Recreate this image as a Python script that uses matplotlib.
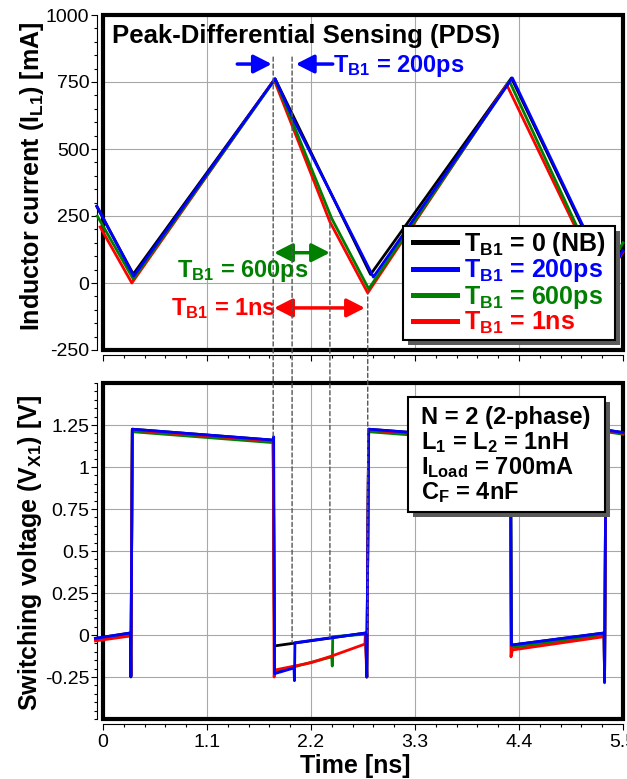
import matplotlib
matplotlib.use("Agg")
import matplotlib.pyplot as plt
from matplotlib.patches import Rectangle, ConnectionPatch
from matplotlib.lines import Line2D
from matplotlib.ticker import FixedLocator, MultipleLocator

plt.rcParams['font.family'] = ['Liberation Sans', 'DejaVu Sans']
plt.rcParams['mathtext.fontset'] = 'custom'
plt.rcParams['mathtext.rm'] = 'Liberation Sans'
plt.rcParams['mathtext.bf'] = 'Liberation Sans:bold'
plt.rcParams['mathtext.it'] = 'Liberation Sans:italic'

# ---- series ----
series_labels = [r'$\mathbf{T_{B1}}$ = 0 (NB)', r'$\mathbf{T_{B1}}$ = 200ps',
                 r'$\mathbf{T_{B1}}$ = 600ps', r'$\mathbf{T_{B1}}$ = 1ns']
series_colors = ['#000000', '#0000ff', '#008000', '#ff0000']

# inductor current I_L1 [mA] vs time [ns]
t_il_nb = [-0.065, 0.32, 1.82, 2.83, 4.32, 5.31, 5.5]
il_nb = [285, 33, 762, 32, 765, 33, 130]
t_il_200 = [-0.065, 0.325, 1.82, 2.02, 2.86, 4.33, 5.33, 5.5]
il_200 = [287, 26, 762, 607, 22, 765, 26, 120]
t_il_600 = [-0.06, 0.32, 1.82, 2.42, 2.81, 4.30, 5.27, 5.5]
il_600 = [250, 15, 760, 240, -22, 752, 15, 150]
t_il_1n = [-0.03, 0.305, 1.81, 2.40, 2.80, 4.27, 5.28, 5.5]
il_1n = [209, 0, 758, 228, -37, 740, 0, 115]

# switching node voltage V_X1 [V] vs time [ns]
t_vx_nb = [-0.08, 0.29, 0.295, 0.31, 1.80, 1.815, 2.78, 2.79, 2.81, 4.31, 4.32, 5.30, 5.305, 5.32, 5.5]
vx_nb = [-0.02, 0.012, -0.25, 1.225, 1.16, -0.065, 0.012, -0.25, 1.225, 1.16, -0.06, 0.012, -0.27, 1.22, 1.205]
t_vx_200 = [-0.08, 0.29, 0.295, 0.31, 1.80, 1.805, 1.815, 2.02, 2.025, 2.03, 2.78, 2.79, 2.81,
            4.31, 4.32, 5.30, 5.305, 5.32, 5.5]
vx_200 = [-0.02, 0.012, -0.245, 1.225, 1.16, 1.18, -0.23, -0.196, -0.272, -0.046, 0.012, -0.25, 1.225,
          1.16, -0.06, 0.012, -0.28, 1.22, 1.205]
t_vx_600 = [-0.08, 0.29, 0.295, 0.31, 1.80, 1.815, 2.42, 2.425, 2.43, 2.78, 2.79, 2.81,
            4.31, 4.32, 4.322, 5.30, 5.305, 5.32, 5.5]
vx_600 = [-0.025, 0.005, -0.24, 1.21, 1.145, -0.22, -0.13, -0.185, -0.01, 0.005, -0.25, 1.21,
          1.145, -0.11, -0.075, 0.0, -0.285, 1.21, 1.195]
t_vx_1n = [-0.08, 0.29, 0.295, 0.31, 1.80, 1.81, 1.82, 2.20, 2.42, 2.77, 2.775, 2.79, 2.81,
           4.31, 4.315, 4.33, 5.30, 5.305, 5.32, 5.5]
vx_1n = [-0.035, -0.006, -0.24, 1.22, 1.155, -0.25, -0.208, -0.165, -0.125, -0.054, 0.0, -0.25, 1.22,
         1.155, -0.13, -0.089, -0.01, -0.27, 1.22, 1.2]

# blanking window markers
blank_start = 1.80
blank_widths = [0.2, 0.6, 1.0]
marker_top_il = [843, 843, 246, -26]
marker_bottom_vx = [1.17, -0.046, -0.015, 0.012]

# axes ticks
x_ticks = [0, 1.1, 2.2, 3.3, 4.4, 5.5]
x_tick_labels = ['0', '1.1', '2.2', '3.3', '4.4', '5.5']
il_ticks = [-250, 0, 250, 500, 750, 1000]
il_tick_labels = ['-250', '0', '250', '500', '750', '1000']
vx_ticks = [-0.25, 0, 0.25, 0.5, 0.75, 1, 1.25]
vx_tick_labels = ['-0.25', '0', '0.25', '0.5', '0.75', '1', '1.25']

info_lines = ['N = 2 (2-phase)', r'$\mathbf{L_1}$ = $\mathbf{L_2}$ = 1nH',
              r'$\mathbf{I_{Load}}$ = 700mA', r'$\mathbf{C_F}$ = 4nF']

W, H = 627, 779
fig = plt.figure(figsize=(W / 100, H / 100), dpi=100)
ax1 = fig.add_axes([103 / W, 1 - 350 / H, 520 / W, 335 / H])
ax2 = fig.add_axes([103 / W, 1 - 719 / H, 520 / W, 336 / H])


def style_axes(ax):
    for s in ['top', 'right']:
        ax.spines[s].set_visible(False)
    ax.spines['left'].set_position(('outward', 4.3))
    ax.spines['bottom'].set_position(('outward', 3.6))
    for s in ['left', 'bottom']:
        ax.spines[s].set_linewidth(0.8)
    ax.set_xlim(0, 5.5)
    ax.xaxis.set_major_locator(FixedLocator(x_ticks))
    ax.xaxis.set_minor_locator(MultipleLocator(0.22))
    ax.tick_params(which='major', direction='out', length=4, width=0.8, labelsize=14)
    ax.tick_params(which='minor', direction='out', length=2.2, width=0.8)
    ax.tick_params(axis='y', which='major', pad=1.5)
    ax.tick_params(axis='x', which='major', pad=3)
    ax.grid(True, which='major', color='#a8a8a8', lw=0.8)
    ax.set_axisbelow(True)
    frame = Rectangle((0, 0), 1, 1, transform=ax.transAxes, fill=False, lw=3,
                      ec='black', clip_on=False, zorder=2.6)
    ax.add_patch(frame)


def shadow_box(ax, x0, y0, w, h, dx, dy):
    # white box with a black border and a dark drop shadow, in axes fraction
    ax.add_patch(Rectangle((x0 + dx, y0 - dy), w, h, transform=ax.transAxes,
                           fc='#5a5a5a', ec='none', zorder=5.9, clip_on=False))
    ax.add_patch(Rectangle((x0, y0), w, h, transform=ax.transAxes,
                           fc='white', ec='black', lw=1.5, zorder=5.95, clip_on=False))


style_axes(ax1)
style_axes(ax2)

# ---- top: inductor current ----
il_data = [(t_il_nb, il_nb), (t_il_200, il_200), (t_il_600, il_600), (t_il_1n, il_1n)]
for idx in [0, 3, 2, 1]:
    t, v = il_data[idx]
    ax1.plot(t, v, color=series_colors[idx], lw=2, clip_on=False, zorder=3)
ax1.set_ylim(-250, 1000)
ax1.yaxis.set_major_locator(FixedLocator(il_ticks))
ax1.set_yticklabels(il_tick_labels)
ax1.yaxis.set_minor_locator(MultipleLocator(50))
ax1.set_xticklabels([])
ax1.set_ylabel(r'Inductor current ($\mathbf{I_{L1}}$) [mA]', fontsize=18, fontweight='bold')
ax1.yaxis.set_label_coords(-0.1365, 0.519)
ax1.yaxis.label.set_va('center')

ax1.text(0.0173, 0.916, 'Peak-Differential Sensing (PDS)', transform=ax1.transAxes,
         fontsize=18.5, fontweight='bold', va='baseline', ha='left')

# blanking annotations
arrow_kw = dict(lw=2.5, shrinkA=0, shrinkB=0, mutation_scale=20)
one_head = '-|>,head_length=0.55,head_width=0.28'
two_head = '<|-|>,head_length=0.55,head_width=0.28'
b200 = blank_start + blank_widths[0]
ax1.annotate('', xy=(blank_start - 0.015, 817), xytext=(1.42, 817),
             arrowprops=dict(arrowstyle=one_head, color=series_colors[1], **arrow_kw))
ax1.annotate('', xy=(b200 + 0.04, 817), xytext=(2.43, 817),
             arrowprops=dict(arrowstyle=one_head, color=series_colors[1], **arrow_kw))
ax1.text(2.43, 787, series_labels[1], color=series_colors[1], fontsize=17,
         fontweight='bold', va='baseline', ha='left')

ax1.annotate('', xy=(blank_start + blank_widths[1], 113), xytext=(blank_start + 0.01, 113),
             arrowprops=dict(arrowstyle=two_head, color=series_colors[2], **arrow_kw))
ax1.text(0.787, 24, series_labels[2], color=series_colors[2], fontsize=17,
         fontweight='bold', va='baseline', ha='left')

ax1.annotate('', xy=(blank_start + blank_widths[2] - 0.03, -93), xytext=(blank_start + 0.01, -93),
             arrowprops=dict(arrowstyle=two_head, color=series_colors[3], **arrow_kw))
ax1.text(0.72, -119, series_labels[3], color=series_colors[3], fontsize=17,
         fontweight='bold', va='baseline', ha='left')

# legend drawn inside its own shadowed box
lx0, ly0, lx1, ly1 = 0.577, 0.030, 0.985, 0.370
shadow_box(ax1, lx0, ly0, lx1 - lx0, ly1 - ly0, 5 / 520, 5 / 335)
handles = [Line2D([], [], color=c, lw=3.6) for c in series_colors]
leg = ax1.legend(handles, series_labels, loc='center',
                 bbox_to_anchor=((lx0 + lx1) / 2, (ly0 + ly1) / 2),
                 prop={'weight': 'bold', 'size': 18}, labelcolor=series_colors,
                 frameon=False, handlelength=1.76, handletextpad=0.25, borderpad=0.1,
                 labelspacing=-0.03, borderaxespad=0)
leg.set_zorder(6)

# ---- bottom: switching voltage ----
vx_data = [(t_vx_nb, vx_nb), (t_vx_200, vx_200), (t_vx_600, vx_600), (t_vx_1n, vx_1n)]
for idx in [0, 2, 3, 1]:
    t, v = vx_data[idx]
    ax2.plot(t, v, color=series_colors[idx], lw=2, clip_on=False, zorder=3)
ax2.set_ylim(-0.5, 1.5)
ax2.yaxis.set_major_locator(FixedLocator(vx_ticks))
ax2.set_yticklabels(vx_tick_labels)
ax2.yaxis.set_minor_locator(MultipleLocator(0.05))
ax2.set_xticklabels(x_tick_labels)
ax2.set_ylabel(r'Switching voltage ($\mathbf{V_{X1}}$) [V]', fontsize=18, fontweight='bold')
ax2.yaxis.set_label_coords(-0.140, 0.494)
ax2.yaxis.label.set_va('center')
ax2.set_xlabel('Time [ns]', fontsize=18, fontweight='bold')
ax2.xaxis.set_label_coords(0.485, -0.104)
ax2.xaxis.label.set_va('top')

# info box with drop shadow
shadow_box(ax2, 0.5865, 0.616, 0.3785, 0.342, 5 / 520, 5 / 336)
for txt, yb in zip(info_lines, [0.878, 0.8036, 0.729, 0.6548]):
    ax2.text(0.6115, yb, txt, transform=ax2.transAxes, fontsize=17, fontweight='bold',
             va='baseline', ha='left', zorder=7)

# blanking window markers spanning both panels
marker_times = [blank_start] + [blank_start + w for w in blank_widths]
for tm, top, bot in zip(marker_times, marker_top_il, marker_bottom_vx):
    con = ConnectionPatch(xyA=(tm, top), coordsA=ax1.transData,
                          xyB=(tm, bot), coordsB=ax2.transData,
                          color='#555555', lw=1, linestyle=(0, (3, 2)))
    fig.add_artist(con)

fig.savefig('out.png', dpi=100)
